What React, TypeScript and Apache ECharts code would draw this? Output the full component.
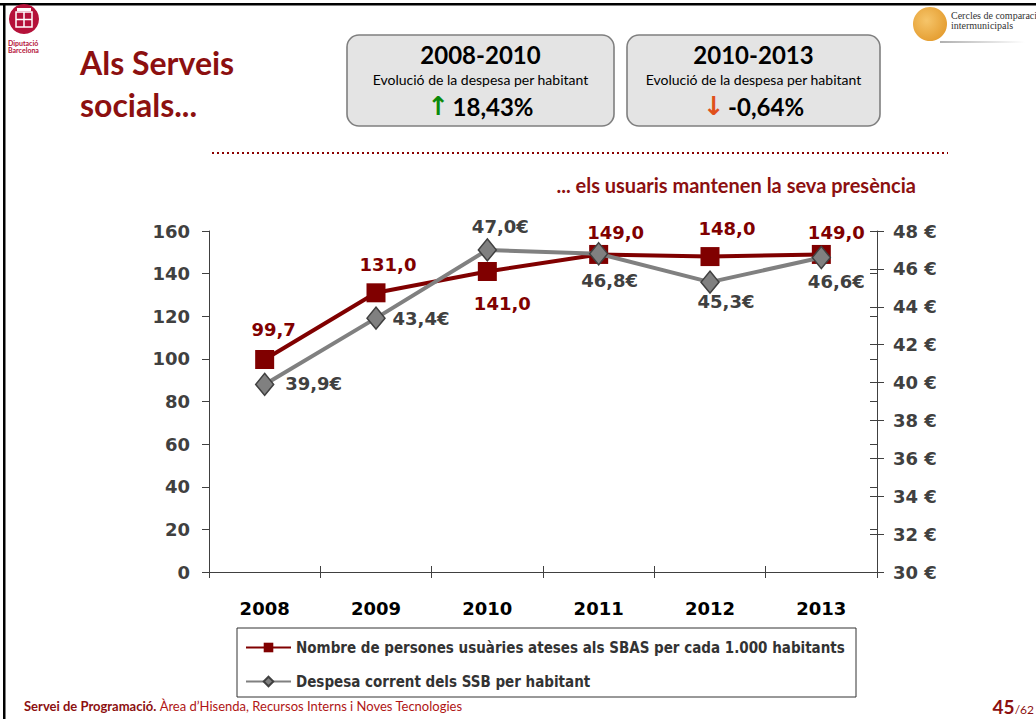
import React, { useEffect, useRef } from "react";
import * as echarts from "echarts";

// ---- data ----
const years = ["2008", "2009", "2010", "2011", "2012", "2013"];
const usuaris = [99.7, 131.0, 141.0, 149.0, 148.0, 149.0];
const despesa = [39.9, 43.4, 47.0, 46.8, 45.3, 46.6];
const seriesNames = [
  "Nombre de persones usuàries ateses als SBAS per cada 1.000 habitants",
  "Despesa corrent dels SSB per habitant",
];
const leftAxis = { min: 0, max: 160, interval: 20 };
const rightAxis = { min: 30, max: 48, interval: 2 };
const boxes = [
  { period: "2008-2010", caption: "Evolució de la despesa per habitant", arrow: "↑", value: "18,43%", up: true },
  { period: "2010-2013", caption: "Evolució de la despesa per habitant", arrow: "↓", value: "-0,64%", up: false },
];

// ---- label layout (offsets of each label centre from its point) ----
const usuarisLabelOffsets = [[9, -30], [12, -28], [15, 32], [17, -22], [17, -28], [15, -22]];
const despesaLabelOffsets = [[49, -1], [45, 0], [13, -23], [11, 27], [16, 19], [15, 24]];

const RED = "#800000";
const TITLE_RED = "#8c1010";
const GRAY = "#808080";
const DARK = "#404040";
const CHART_FONT = "'DejaVu Sans', Verdana, sans-serif";
const SLIDE_FONT = "Lato, 'Open Sans', sans-serif";

const fmt = (v: number) => v.toFixed(1).replace(".", ",");

export default function App() {
  const ref = useRef<HTMLDivElement>(null);

  useEffect(() => {
    if (!ref.current) return;
    const chart = echarts.init(ref.current, null, { renderer: "svg" });

    const boxGraphics: any[] = [];
    const boxX = [347, 627];
    const boxW = [267, 253];
    boxes.forEach((b, i) => {
      const cx = boxX[i] + boxW[i] / 2;
      boxGraphics.push(
        {
          type: "rect",
          shape: { x: boxX[i], y: 35, width: boxW[i], height: 91, r: 12 },
          style: { fill: "#e4e4e4", stroke: "#7f7f7f", lineWidth: 1.6 },
        },
        {
          type: "text",
          style: {
            text: b.period, x: cx, y: 54, textAlign: "center", textVerticalAlign: "middle",
            font: `bold 24px ${SLIDE_FONT}`, fill: "#000",
          },
        },
        {
          type: "text",
          style: {
            text: b.caption, x: cx, y: 79, textAlign: "center", textVerticalAlign: "middle",
            font: `14px ${SLIDE_FONT}`, fill: "#000",
          },
        },
        {
          type: "text",
          style: {
            text: `{a|${b.arrow}} {v|${b.value}}`, x: cx, y: 106, textAlign: "center", textVerticalAlign: "middle",
            rich: {
              a: { font: `bold 26px ${CHART_FONT}`, fill: b.up ? "#0a8a0a" : "#e0501a" },
              v: { font: `bold 24px ${SLIDE_FONT}`, fill: "#000" },
            },
          },
        }
      );
    });

    const option: any = {
      animation: false,
      textStyle: { fontFamily: CHART_FONT },
      grid: { left: 209, right: 159, top: 231, bottom: 147, containLabel: false },
      xAxis: [
        {
          type: "category",
          data: years,
          boundaryGap: true,
          axisLine: { lineStyle: { color: DARK, width: 1 } },
          axisTick: { show: true, length: 6, lineStyle: { color: DARK } },
          axisLabel: { margin: 27, color: "#000", fontWeight: "bold", fontSize: 18, fontFamily: CHART_FONT },
        },
        {
          type: "category",
          data: years,
          position: "bottom",
          boundaryGap: true,
          axisLine: { show: false },
          axisTick: { show: true, inside: true, length: 6, lineStyle: { color: DARK } },
          axisLabel: { show: false },
        },
      ],
      yAxis: [
        {
          type: "value",
          ...leftAxis,
          axisLine: { show: true, lineStyle: { color: DARK } },
          axisTick: { show: true, length: 7, lineStyle: { color: DARK } },
          splitLine: { show: false },
          axisLabel: { margin: 19, color: DARK, fontWeight: "bold", fontSize: 18, fontFamily: CHART_FONT },
        },
        {
          type: "value",
          position: "right",
          ...rightAxis,
          axisLine: { show: true, lineStyle: { color: DARK } },
          axisTick: { show: true, length: 7, lineStyle: { color: DARK } },
          splitLine: { show: false },
          axisLabel: {
            margin: 16, color: DARK, fontWeight: "bold", fontSize: 18, fontFamily: CHART_FONT,
            formatter: (v: number) => `${v} €`,
          },
        },
        {
          type: "value",
          ...leftAxis,
          axisLine: { show: false },
          axisTick: { show: true, inside: true, length: 7, lineStyle: { color: DARK } },
          splitLine: { show: false },
          axisLabel: { show: false },
        },
        {
          type: "value",
          position: "right",
          ...rightAxis,
          axisLine: { show: false },
          axisTick: { show: true, inside: true, length: 7, lineStyle: { color: DARK } },
          splitLine: { show: false },
          axisLabel: { show: false },
        },
      ],
      legend: {
        orient: "vertical",
        left: 245,
        top: 640,
        padding: 0,
        itemWidth: 45,
        itemHeight: 12,
        itemGap: 19,
        data: seriesNames,
        textStyle: {
          fontFamily: "'DejaVu Sans Condensed', 'DejaVu Sans', sans-serif",
          fontWeight: "bold",
          fontSize: 15,
          color: "#333",
        },
      },
      series: [
        {
          name: seriesNames[0],
          type: "line",
          yAxisIndex: 0,
          data: usuaris.map((v, i) => ({
            value: v,
            label: { offset: usuarisLabelOffsets[i] },
          })),
          symbol: "rect",
          symbolSize: 19,
          lineStyle: { color: RED, width: 4 },
          itemStyle: { color: RED },
          z: 2,
          label: {
            show: true,
            position: "inside",
            color: RED,
            fontWeight: "bold",
            fontSize: 18,
            fontFamily: CHART_FONT,
            formatter: (p: any) => fmt(p.value),
          },
        },
        {
          name: seriesNames[1],
          type: "line",
          yAxisIndex: 1,
          data: despesa.map((v, i) => ({
            value: v,
            label: { offset: despesaLabelOffsets[i] },
          })),
          symbol: "diamond",
          symbolSize: [18, 22],
          lineStyle: { color: GRAY, width: 4 },
          itemStyle: { color: GRAY, borderColor: DARK, borderWidth: 1.5 },
          z: 3,
          label: {
            show: true,
            position: "inside",
            color: DARK,
            fontWeight: "bold",
            fontSize: 18,
            fontFamily: CHART_FONT,
            formatter: (p: any) => `${fmt(p.value)}€`,
          },
        },
      ],
      graphic: [
        // slide frame
        { type: "rect", shape: { x: 0, y: 3, width: 1036, height: 2.5 }, style: { fill: "#000" } },
        { type: "rect", shape: { x: 3, y: 3, width: 2.5, height: 716 }, style: { fill: "#000" } },
        // left logo
        { type: "circle", shape: { cx: 24, cy: 19, r: 15 }, style: { fill: "#b5123a" } },
        { type: "rect", shape: { x: 16, y: 12, width: 16, height: 15 }, style: { fill: "none", stroke: "#fff", lineWidth: 1.5 } },
        { type: "line", shape: { x1: 24, y1: 12, x2: 24, y2: 27 }, style: { stroke: "#fff", lineWidth: 1.5 } },
        { type: "line", shape: { x1: 16, y1: 19.5, x2: 32, y2: 19.5 }, style: { stroke: "#fff", lineWidth: 1.5 } },
        { type: "rect", shape: { x: 17, y: 8, width: 14, height: 3 }, style: { fill: "#fff" } },
        {
          type: "text",
          style: { text: "Diputació", x: 8, y: 43, textVerticalAlign: "middle", font: `bold 7px ${SLIDE_FONT}`, fill: "#b5123a" },
        },
        {
          type: "text",
          style: { text: "Barcelona", x: 8, y: 50, textVerticalAlign: "middle", font: `bold 7px ${SLIDE_FONT}`, fill: "#b5123a" },
        },
        // right logo
        {
          type: "circle",
          shape: { cx: 930, cy: 24, r: 17 },
          style: {
            fill: new echarts.graphic.RadialGradient(0.4, 0.4, 0.7, [
              { offset: 0, color: "#f6c56a" },
              { offset: 1, color: "#e39a2c" },
            ]),
          },
        },
        {
          type: "rect",
          shape: { x: 940, y: 41, width: 85, height: 2 },
          style: {
            fill: new echarts.graphic.LinearGradient(0, 0, 1, 0, [
              { offset: 0, color: "#b0b0b0" },
              { offset: 1, color: "#ffffff" },
            ]),
          },
        },
        {
          type: "text",
          style: { text: "Cercles de comparació", x: 951, y: 15, textVerticalAlign: "middle", font: "10px 'Liberation Serif', 'DejaVu Serif', serif", fill: "#333" },
        },
        {
          type: "text",
          style: { text: "intermunicipals", x: 951, y: 25, textVerticalAlign: "middle", font: "10px 'Liberation Serif', 'DejaVu Serif', serif", fill: "#333" },
        },
        // title
        {
          type: "text",
          style: { text: "Als Serveis", x: 80, y: 62, textVerticalAlign: "middle", font: `bold 32px ${SLIDE_FONT}`, fill: TITLE_RED },
        },
        {
          type: "text",
          style: { text: "socials...", x: 80, y: 104, textVerticalAlign: "middle", font: `bold 32px ${SLIDE_FONT}`, fill: TITLE_RED },
        },
        ...boxGraphics,
        // dotted rule
        {
          type: "line",
          shape: { x1: 212, y1: 153, x2: 948, y2: 153 },
          style: { stroke: "#8b0000", lineWidth: 2, lineDash: [2, 3] },
        },
        {
          type: "text",
          style: {
            text: "... els usuaris mantenen la seva presència", x: 916, y: 185, textAlign: "right",
            textVerticalAlign: "middle", font: `bold 20px ${SLIDE_FONT}`, fill: TITLE_RED,
          },
        },
        // legend frame
        {
          type: "rect",
          shape: { x: 237, y: 628, width: 619, height: 69 },
          style: { fill: "none", stroke: "#333", lineWidth: 1 },
        },
        // footer
        {
          type: "text",
          style: {
            text: "{b|Servei de Programació.} {r|Àrea d’Hisenda, Recursos Interns i Noves Tecnologies}",
            x: 24, y: 706, textVerticalAlign: "middle",
            rich: {
              b: { font: `bold 13px ${SLIDE_FONT}`, fill: TITLE_RED },
              r: { font: `13px ${SLIDE_FONT}`, fill: "#b01515" },
            },
          },
        },
        {
          type: "text",
          style: {
            text: "{a|45}{b|/62}", x: 1034, y: 706, textAlign: "right", textVerticalAlign: "middle",
            rich: {
              a: { font: `bold 19px ${SLIDE_FONT}`, fill: TITLE_RED, verticalAlign: "bottom" },
              b: { font: `12px ${SLIDE_FONT}`, fill: TITLE_RED, verticalAlign: "bottom" },
            },
          },
        },
      ],
    };

    chart.setOption(option);
    return () => chart.dispose();
  }, []);

  return (
    <div
      ref={ref}
      style={{ position: "absolute", left: 0, top: 0, width: 1036, height: 719, background: "#fff" }}
    />
  );
}
